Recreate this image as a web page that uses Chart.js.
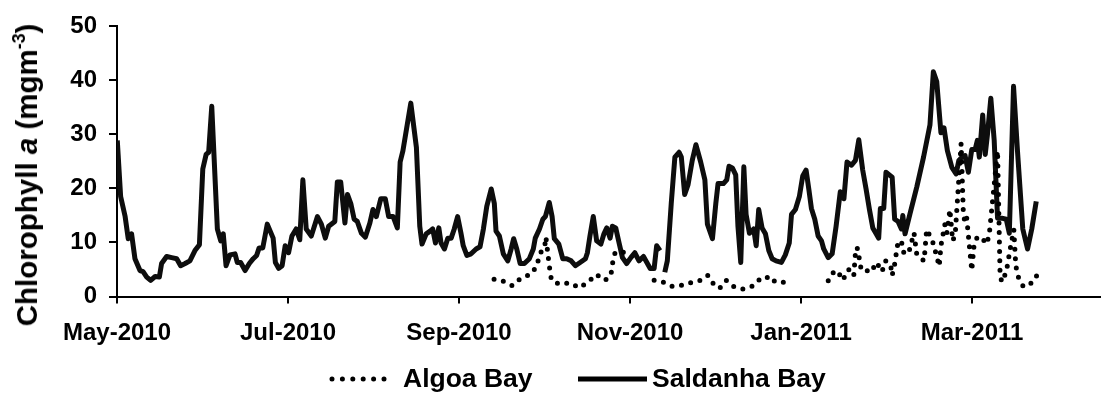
<!DOCTYPE html>
<html>
<head>
<meta charset="utf-8">
<script src="https://cdn.jsdelivr.net/npm/chart.js@4.4.1/dist/chart.umd.min.js"></script>
<style>
  html, body { margin: 0; padding: 0; background: #fff; }
  #wrap { position: relative; width: 1101px; height: 399px; overflow: hidden; }
  #c { position: absolute; left: 0; top: 0; }
  .txt { font-family: 'Liberation Sans', Arial, sans-serif; font-weight: bold; color: #000; white-space: nowrap; }
  #ytitle { position: absolute; left: 27px; top: 175px; font-size: 29.5px; line-height: 30px;
            transform: translate(-50%, -50%) rotate(-90deg); }
  #ytitle sup { font-size: 0.6em; line-height: 0; vertical-align: 0.7em; }
  .legtxt { position: absolute; font-size: 26.5px; line-height: 26px; }
  .legsym { position: absolute; }
</style>
</head>
<body>
<div id="wrap">
  <canvas id="c" width="1101" height="399"></canvas>
  <div id="ytitle" class="txt">Chlorophyll <i>a</i> (mgm<sup>-3</sup>)</div>
  <svg class="legsym" style="left:326px;top:372px" width="66" height="14">
    <line x1="6" y1="7" x2="60" y2="7" stroke="#000" stroke-width="5" stroke-linecap="round" stroke-dasharray="0 10.4"/>
  </svg>
  <div class="txt legtxt" style="left:403px;top:365px">Algoa Bay</div>
  <svg class="legsym" style="left:578px;top:372px" width="70" height="14">
    <line x1="0" y1="7" x2="69" y2="7" stroke="#000" stroke-width="5"/>
  </svg>
  <div class="txt legtxt" style="left:652px;top:365px">Saldanha Bay</div>
</div>
<script>
// x values are days since 1 May 2010
const tickDays = [0, 61, 122, 183, 244, 305];
const tickLabels = ['May-2010', 'Jul-2010', 'Sep-2010', 'Nov-2010', 'Jan-2011', 'Mar-2011'];

const saldanhaDays = [0.1,1.3,2.9,4.0,5.2,6.4,8.2,9.3,10.6,12.0,13.6,15.1,15.9,17.7,19.5,21.3,22.7,24.3,26.0,27.8,29.4,30.6,31.8,32.7,33.8,35.8,37.0,37.9,38.9,40.3,42.1,42.9,44.1,45.7,47.2,48.6,49.8,50.7,52.0,53.6,55.7,56.5,57.7,58.9,60.0,61.2,62.4,63.9,65.2,66.3,67.5,69.3,71.5,72.9,74.3,75.5,77.7,78.6,79.8,81.3,82.2,83.4,84.6,85.7,87.2,88.6,90.2,91.3,92.5,94.1,95.7,96.9,98.5,100.0,101.0,102.0,104.8,106.8,108.0,108.8,110.3,111.7,112.6,113.6,114.8,115.6,116.8,118.0,119.2,120.3,121.5,122.7,123.5,124.8,126.3,128.1,129.5,130.7,131.9,133.5,134.6,135.2,136.4,137.8,139.4,140.6,141.5,142.6,143.8,145.3,147.1,148.5,149.2,150.7,151.9,152.8,154.2,155.2,156.0,157.6,159.0,160.4,162.0,163.5,165.2,167.1,167.8,168.7,169.9,171.1,172.6,173.7,174.7,175.9,176.7,177.9,179.1,180.3,181.8,183.3,184.7,186.2,187.8,189.0,190.2,191.6,192.5,193.7,194.5,195.4,196.3,197.7,199.0,200.5,201.3,202.5,203.7,205.2,206.5,208.2,209.7,210.6,212.4,213.6,214.4,216.3,217.5,218.3,219.5,220.7,221.5,222.5,223.6,224.4,225.6,227.1,228.0,228.9,230.1,231.3,232.5,233.7,235.1,237.0,238.4,239.8,240.6,242.0,243.4,244.6,245.8,246.8,247.7,248.9,250.1,251.3,252.1,253.7,255.1,256.5,258.0,259.3,260.4,262.0,263.4,264.6,266.0,267.2,268.4,269.6,270.8,271.7,272.3,273.5,274.3,276.5,277.4,278.6,279.8,280.3,281.1,282.9,285.3,287.7,290.0,291.2,292.4,293.9,295.0,296.2,297.8,299.3,300.3,301.4,302.5,303.7,304.9,306.1,306.9,307.6,308.8,309.7,310.5,311.7,312.9,314.1,315.6,317.2,318.3,319.8,321.2,323.1,324.8,326.3,327.9];
const saldanhaChl = [28.9,18.5,14.8,10.7,11.6,7.0,4.8,4.6,3.6,3.0,3.7,3.6,6.1,7.4,7.2,7.0,5.7,6.1,6.6,8.5,9.6,23.6,26.3,26.7,35.2,12.5,10.3,11.6,5.7,7.7,7.9,6.3,6.3,4.8,6.1,7.0,7.6,9.0,9.0,13.4,10.8,6.3,5.2,5.7,9.4,8.1,11.2,12.5,10.5,21.6,12.5,11.2,14.8,13.4,10.8,13.0,13.9,21.2,21.2,13.6,18.9,17.2,14.3,13.9,11.7,11.0,13.6,16.1,14.8,18.1,18.1,14.8,14.8,12.7,24.9,27.0,35.8,27.6,13.0,9.7,11.6,12.1,12.5,9.9,12.7,9.9,8.8,10.8,10.8,12.5,14.8,11.7,9.4,7.6,7.9,8.8,9.2,12.5,16.7,19.9,17.2,12.1,11.2,7.9,6.6,8.8,10.7,8.8,6.1,6.1,7.0,8.8,10.8,12.5,14.3,14.8,17.4,14.8,10.7,9.7,7.0,7.0,6.6,5.7,6.3,7.0,8.1,11.2,14.8,10.3,9.7,11.6,12.7,10.8,13.0,12.7,9.9,7.2,6.1,7.2,8.1,6.6,7.4,6.3,5.2,5.2,9.4,8.5,null,4.5,6.6,17.2,25.8,26.7,25.8,18.9,20.7,25.2,28.1,24.9,21.6,13.4,10.7,17.2,20.9,20.9,21.6,24.1,23.8,22.5,13.0,6.3,24.0,15.2,11.7,12.5,9.4,16.1,12.7,11.6,8.5,7.0,6.6,6.3,7.7,9.9,15.2,16.1,18.5,22.3,23.4,19.8,16.3,14.3,11.2,10.3,8.8,7.2,7.9,13.0,19.4,18.1,24.9,24.3,25.2,29.0,23.4,19.9,16.1,12.7,11.6,10.8,16.3,16.3,23.0,22.1,14.3,13.9,12.5,15.0,11.6,15.4,20.3,25.8,31.8,41.6,39.8,30.3,31.2,27.0,23.9,22.7,25.2,25.8,26.1,23.0,27.2,27.2,28.9,25.8,33.6,26.3,30.0,36.7,28.9,14.5,14.5,14.3,11.7,38.9,27.0,12.5,8.8,12.5,17.6];

const algoaDays = [134.5,137.8,141.0,144.1,147.6,149.7,150.9,152.5,153.0,153.9,154.5,155.0,157.7,161.6,164.9,168.1,170.9,174.1,176.2,176.7,177.7,181.2,186.0,191.6,195.1,197.9,201.8,205.0,208.2,210.7,212.2,214.9,217.3,219.7,223.2,227.1,229.5,231.0,232.7,234.8,237.2,240.6,247.0,253.7,255.2,257.0,258.9,260.4,261.0,262.8,263.4,264.0,264.8,265.5,267.2,269.4,270.5,271.9,272.9,274.1,275.9,276.5,277.4,278.6,279.8,280.5,282.3,284.3,285.3,287.9,288.8,289.7,291.1,292.1,293.3,293.9,295.3,296.0,297.1,298.1,299.0,301.1,301.9,302.5,303.1,304.9,305.7,306.9,308.8,310.3,311.2,314.1,315.0,315.6,317.2,318.6,319.9,320.6,321.5,323.3,326.9,328.7];
const algoaChl = [3.2,2.8,2.0,3.4,4.1,5.6,8.0,9.0,11.0,7.0,4.5,3.0,2.3,2.5,1.6,2.7,4.1,3.0,4.0,6.0,8.2,8.2,null,3.0,2.6,1.9,2.1,2.6,3.0,3.9,2.6,1.5,3.0,1.9,1.4,2.0,3.3,3.2,3.8,2.7,2.7,2.2,null,2.9,4.3,4.8,3.0,4.5,5.0,3.8,8.0,9.1,7.0,4.8,4.8,4.6,6.3,5.6,4.6,6.6,6.0,3.9,6.0,10.1,10.3,8.2,7.9,11.8,7.7,6.6,12.4,11.5,9.9,8.0,5.6,9.4,13.3,11.7,16.1,10.3,11.5,28.3,15.4,13.6,14.5,4.8,9.4,11.1,10.6,9.7,11.8,27.0,4.0,2.7,4.5,8.8,12.4,5.7,3.6,1.8,2.7,4.5];

const toPoints = (xs, ys) => xs.map((x, i) => ({ x: x, y: ys[i] }));
const FONT = "'Liberation Sans', Arial, sans-serif";

new Chart(document.getElementById('c'), {
  type: 'line',
  data: {
    datasets: [
      {
        label: 'Algoa Bay',
        data: toPoints(algoaDays, algoaChl),
        borderColor: '#000',
        borderWidth: 5,
        borderDash: [0, 9.5],
        borderCapStyle: 'round',
        borderJoinStyle: 'round',
        pointRadius: 0,
        tension: 0,
        spanGaps: false,
        fill: false
      },
      {
        label: 'Saldanha Bay',
        data: toPoints(saldanhaDays, saldanhaChl),
        borderColor: '#0d0d0d',
        borderWidth: 5,
        borderJoinStyle: 'round',
        borderCapStyle: 'butt',
        pointRadius: 0,
        tension: 0,
        spanGaps: false,
        fill: false
      }
    ]
  },
  options: {
    responsive: false,
    animation: false,
    devicePixelRatio: 1,
    layout: { padding: { top: 20, left: 0, right: 0, bottom: 0 } },
    plugins: { legend: { display: false }, tooltip: { enabled: false } },
    scales: {
      x: {
        type: 'linear',
        min: 0,
        max: 351,
        afterBuildTicks: (axis) => { axis.ticks = tickDays.map(v => ({ value: v })); },
        afterFit: (scale) => { scale.height = 102.5; },
        ticks: {
          autoSkip: false,
          maxRotation: 0,
          padding: 15,
          color: '#000',
          font: { family: FONT, size: 24, weight: 'bold' },
          callback: (value) => tickLabels[tickDays.indexOf(value)]
        },
        grid: { drawOnChartArea: false, drawTicks: true, tickLength: 7, color: '#000', lineWidth: 2 },
        border: { display: true, color: '#000', width: 2 }
      },
      y: {
        min: 0,
        max: 50,
        afterFit: (scale) => { scale.width = 117; },
        ticks: {
          stepSize: 10,
          padding: 12,
          color: '#000',
          font: { family: FONT, size: 24, weight: 'bold' }
        },
        grid: { drawOnChartArea: false, drawTicks: true, tickLength: 8, color: '#000', lineWidth: 2 },
        border: { display: true, color: '#000', width: 2 }
      }
    }
  }
});
</script>
</body>
</html>
